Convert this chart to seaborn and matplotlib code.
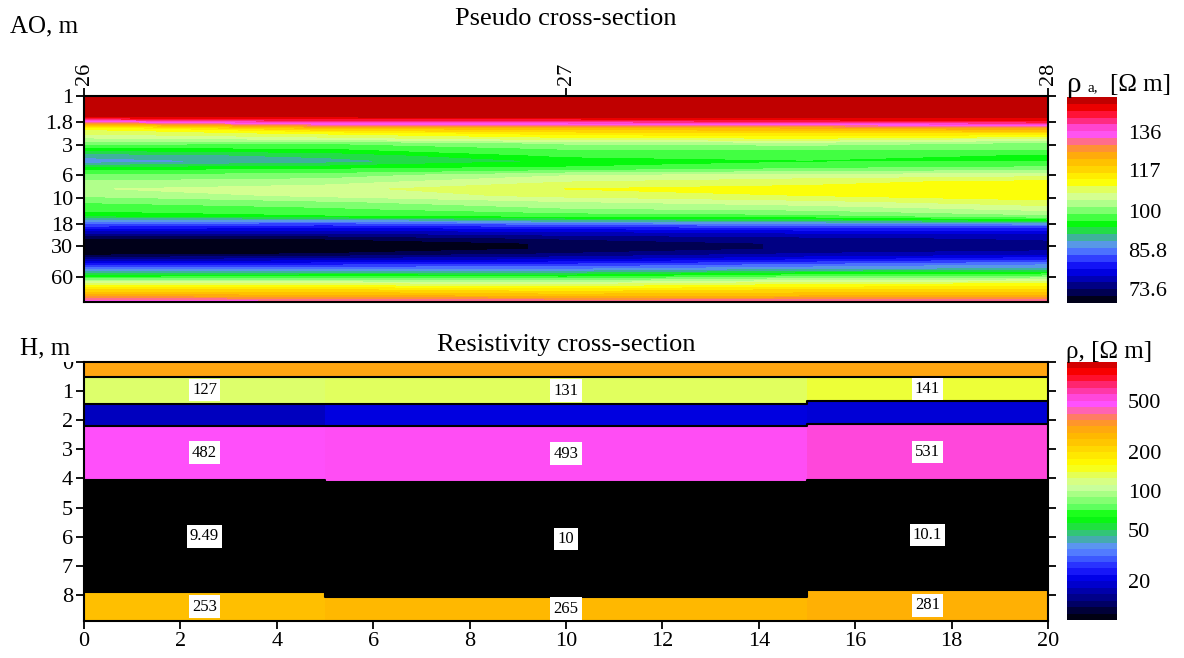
import numpy as np
import matplotlib
matplotlib.use('Agg')
import matplotlib.pyplot as plt
import seaborn as sns
from matplotlib.colors import LogNorm, ListedColormap
from matplotlib.cm import ScalarMappable
from matplotlib.ticker import NullLocator
from matplotlib.transforms import Bbox

# ---- pseudo cross-section data (apparent resistivity, Ohm m) ----
pickets = [26, 26.5, 27, 27.5, 28]
ao = [1.0, 1.3, 1.6, 1.75, 1.9, 2.05, 2.3, 2.6, 2.9, 3.3, 3.8, 4.4, 5.2, 6.0, 7.0, 8.2, 9.5,
      11, 13, 15, 16.5, 18, 20, 22, 25, 28, 32, 36, 40, 45, 50, 56, 62, 70, 80, 92, 106]
rho_26 = [155, 155, 152, 135, 121, 111, 108, 104, 100, 95, 90, 87, 95, 99, 102, 104, 102,
          99, 97, 94, 88, 84, 80, 76, 72, 70, 70, 71, 75, 80, 86, 91, 98, 108, 116, 124, 136]
rho_26_5 = [155, 155, 152, 143, 132, 121, 111, 106, 99, 96, 92, 90, 96, 100, 103, 106, 105,
            101, 98, 96, 88, 83, 79, 76, 72, 70, 70, 72, 76, 81, 86, 92, 99, 107, 116, 123, 134]
rho_27 = [155, 155, 153, 143, 132, 121, 115, 109, 102, 99, 97, 94, 97, 104, 107, 110, 108,
          104, 101, 97, 91, 85, 80, 77, 74, 72, 72, 74, 77, 82, 86, 92, 98, 106, 114, 121, 133]
rho_27_5 = [155, 155, 153, 146, 134, 123, 116, 110, 103, 99, 97, 96, 99, 105, 109, 111, 110,
            106, 102, 98, 92, 86, 81, 78, 75, 74, 74, 76, 79, 84, 88, 95, 101, 109, 116, 122, 133]
rho_28 = [155, 155, 153, 148, 136, 126, 116, 107, 101, 99, 96, 96, 100, 106, 111, 112, 112,
          109, 105, 101, 95, 87, 81, 78, 76, 75, 75, 77, 81, 86, 89, 96, 102, 110, 116, 122, 133]
ao_ticks = [1, 1.8, 3, 6, 10, 18, 30, 60]
ao_ticklabels = ['1', '1.8', '3', '6', '10', '18', '30', '60']
rhoa_ticks = [73.6, 85.8, 100, 117, 136]

# ---- resistivity cross-section (layered model) ----
col_left = [0, 5, 15]
col_right = [5, 15, 20]
depth_c1 = [0, 0.50, 1.43, 2.19, 4.05, 7.92]
depth_c2 = [0, 0.50, 1.46, 2.19, 4.11, 8.06]
depth_c3 = [0, 0.50, 1.35, 2.13, 4.05, 7.83]
res_c1 = [300, 127, 18, 482, 9.49, 253]
res_c2 = [300, 131, 20.5, 493, 10, 265]
res_c3 = [300, 141, 19.5, 531, 10.1, 281]
show_label = [False, True, False, True, True, True]
h_max = 8.9
rho_ticks = [20, 50, 100, 200, 500]

node_colors = ['#000000', '#000040', '#000080', '#0000b8', '#0000e8', '#2020ff', '#4060ff',
               '#6090ff', '#40b0a0', '#20e040', '#00ff00', '#60ff60', '#a0ff80', '#d0ffa0',
               '#e0ff60', '#ffff00', '#ffe800', '#ffcc00', '#ffb400', '#ff9a20', '#ff7080',
               '#ff50ff', '#ff40c0', '#ff2060', '#ff0000', '#c00000']

sns.set_theme(style='ticks', rc={'axes.edgecolor': 'black', 'xtick.color': 'black',
                                 'ytick.color': 'black', 'text.color': 'black',
                                 'axes.linewidth': 1.5})
plt.rcParams['font.family'] = ['Liberation Serif', 'DejaVu Serif']

cmap = sns.blend_palette(node_colors, n_colors=256, as_cmap=True)
cmap_top = cmap.with_extremes(over='#c00000')
cmap_steps = ListedColormap(cmap((np.arange(40) + 0.5) / 40))

W, H = 1184, 658
fig = plt.figure(figsize=(W / 100, H / 100), dpi=100)
ax1 = fig.add_axes([84 / W, 1 - 302 / H, 964 / W, 206 / H])
ax2 = fig.add_axes([84 / W, 1 - 621 / H, 964 / W, 259 / H])
cax1 = fig.add_axes([1067 / W, 1 - 303 / H, 50 / W, 206 / H])
cax2 = fig.add_axes([1067 / W, 1 - 620 / H, 50 / W, 258 / H])

# pseudo section
Z = np.column_stack([rho_26, rho_26_5, rho_27, rho_27_5, rho_28])
norm1 = LogNorm(69.8, 153.0)
levels = np.geomspace(69.8, 155.7, 31)
cs = ax1.contourf(pickets, ao, Z, levels=levels, cmap=cmap_top, norm=norm1)
ax1.set_yscale('log')
ax1.set_ylim(106, 1)
ax1.set_xlim(26, 28)
ax1.yaxis.set_minor_locator(NullLocator())
ax1.set_yticks(ao_ticks, ao_ticklabels)
ax1.xaxis.tick_top()
ax1.set_xticks([26, 27, 28], ['26', '27', '28'], rotation=90)
ax1.tick_params(axis='both', labelsize=16, length=6, width=1.3, direction='out', pad=2)
ax1.tick_params(axis='y', right=True, labelright=False)

cb1 = fig.colorbar(cs, cax=cax1)
cb1.set_ticks(rhoa_ticks, labels=['73.6', '85.8', '100', '117', '136'])
cb1.minorticks_off()
cb1.outline.set_visible(False)
cax1.tick_params(length=0, labelsize=16, pad=8)

# layered model
norm2 = LogNorm(10, 1000)
for x0, x1, depths, res in zip(col_left, col_right, [depth_c1, depth_c2, depth_c3],
                               [res_c1, res_c2, res_c3]):
    bottoms = depths[1:] + [h_max]
    for top, bot, r, lab in zip(depths, bottoms, res, show_label):
        ax2.bar(x0, bot - top, bottom=top, width=x1 - x0, align='edge',
                color=cmap(norm2(r)), linewidth=0)
        if lab:
            ax2.text((x0 + x1) / 2, (top + bot) / 2, '{:g}'.format(r), ha='center', va='center',
                     fontsize=12, bbox=dict(boxstyle='square,pad=0.2', fc='white', ec='none'))

for k in range(1, len(depth_c1)):
    xs, ys = [], []
    for x0, x1, depths in zip(col_left, col_right, [depth_c1, depth_c2, depth_c3]):
        xs += [x0, x1]
        ys += [depths[k], depths[k]]
    ax2.plot(xs, ys, color='black', lw=1.5)

ax2.set_xlim(0, 20)
ax2.set_ylim(h_max, 0)
ax2.set_xticks(range(0, 21, 2))
ax2.set_yticks(range(0, 9))
ax2.tick_params(axis='both', labelsize=16, length=6, width=1.3, direction='out', pad=2)
ax2.tick_params(axis='y', right=True, labelright=False)

sm = ScalarMappable(norm=norm2, cmap=cmap_steps)
cb2 = fig.colorbar(sm, cax=cax2)
cb2.set_ticks(rho_ticks, labels=[str(t) for t in rho_ticks])
cb2.minorticks_off()
cb2.outline.set_visible(False)
cax2.tick_params(length=0, labelsize=16, pad=8)

# texts
def px(x, y):
    return x / W, 1 - y / H

fig.text(*px(566, 19), 'Pseudo cross-section', ha='center', va='center', fontsize=19)
fig.text(*px(566, 345), 'Resistivity cross-section', ha='center', va='center', fontsize=19)
fig.text(*px(10, 26), 'AO, m', ha='left', va='center', fontsize=18)
fig.text(*px(20, 348), 'H, m', ha='left', va='center', fontsize=18)
fig.text(*px(1066, 85), 'ρ', ha='left', va='center', fontsize=21)
fig.text(*px(1087, 88), 'a,', ha='left', va='center', fontsize=11)
fig.text(*px(1110, 85), '[Ω m]', ha='left', va='center', fontsize=18)
fig.text(*px(1066, 352), 'ρ, [Ω m]', ha='left', va='center', fontsize=18)

# the "0" depth label is half hidden under the "H, m" caption, as in the source
zero_label = ax2.yaxis.get_major_ticks()[0].label1
zero_label.set_clip_box(Bbox.from_extents(0, 0, W, H - 362))
zero_label.set_clip_on(True)

fig.savefig('out.png', dpi=100)
